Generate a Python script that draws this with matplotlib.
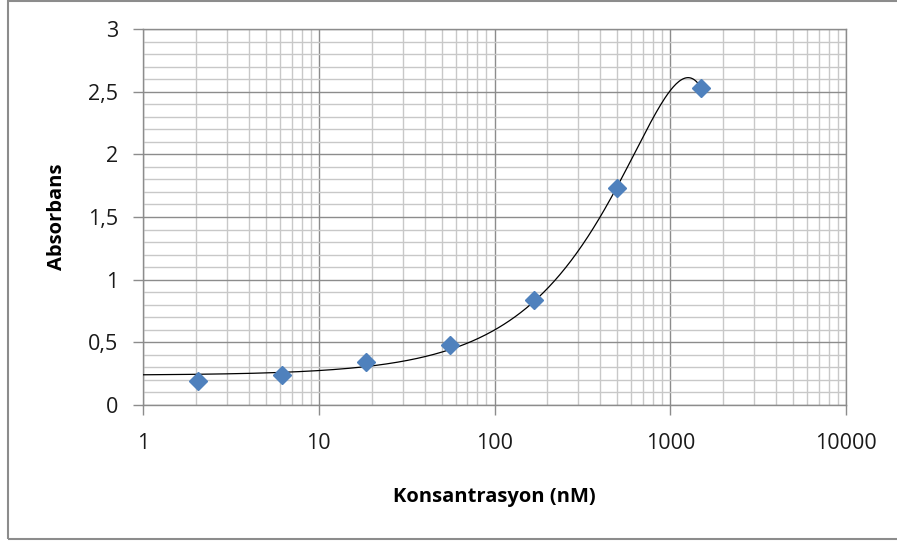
import numpy as np
import matplotlib
matplotlib.use("Agg")
import matplotlib.pyplot as plt
from matplotlib.patches import Rectangle
from matplotlib.ticker import LogLocator, MultipleLocator, FuncFormatter

# ------------------------------
#    DATA
# ------------------------------
# 3-fold dilution series, nM
konsantrasyon = [2.06, 6.17, 18.5, 55.6, 166.7, 500, 1500]
absorbans = [0.19, 0.24, 0.34, 0.48, 0.84, 1.73, 2.53]

plt.rcParams['font.family'] = ['Open Sans', 'DejaVu Sans']

fig = plt.figure(figsize=(8.97, 5.42), dpi=100)
ax = fig.add_axes([143 / 897, 1 - 405 / 542, (846 - 143) / 897, (405 - 29) / 542])

# Outer chart border (Excel style)
fig.patches.append(Rectangle((8 / 897, 3 / 542), 1.0, 1 - 4 / 542, transform=fig.transFigure,
                             fill=False, edgecolor='#8c8c8c', linewidth=1.5))

# polynomial (order 2) trendline, same as the Excel one
coef = np.polyfit(konsantrasyon, absorbans, 2)
xs = np.logspace(0, np.log10(max(konsantrasyon)), 400)
ax.plot(xs, np.polyval(coef, xs), color='black', linewidth=0.9, zorder=3)

ax.plot(konsantrasyon, absorbans, linestyle='none', marker='D', markersize=9.5,
        color='#4f81bd', zorder=4)

ax.set_xscale('log')
ax.set_xlim(1, 10000)
ax.set_ylim(0, 3)

ax.xaxis.set_major_locator(LogLocator(base=10, numticks=10))
ax.xaxis.set_minor_locator(LogLocator(base=10, subs=np.arange(2, 10), numticks=10))
ax.xaxis.set_major_formatter(FuncFormatter(lambda v, p: f'{v:g}'))
ax.xaxis.set_minor_formatter(FuncFormatter(lambda v, p: ''))
ax.yaxis.set_major_locator(MultipleLocator(0.5))
ax.yaxis.set_minor_locator(MultipleLocator(0.1))
ax.yaxis.set_major_formatter(FuncFormatter(lambda v, p: f'{v:g}'.replace('.', ',')))

ax.grid(which='major', color='#8c8c8c', linewidth=1.0)
ax.grid(which='minor', color='#c8c8c8', linewidth=1.0)
ax.set_axisbelow(True)

for s in ax.spines.values():
    s.set_color('#8c8c8c')
    s.set_linewidth(1.0)

ax.tick_params(which='major', length=7, width=1.0, color='#8c8c8c', labelsize=15.5, labelcolor='#1a1a1a')
ax.tick_params(axis='x', which='major', pad=13)
ax.tick_params(axis='y', which='major', pad=11)
ax.tick_params(which='minor', length=0)

ax.set_xlabel('Konsantrasyon (nM)', fontsize=14.5, fontweight='bold', labelpad=24)
ax.set_ylabel('Absorbans', fontsize=14.5, fontweight='bold', labelpad=15)

fig.savefig('out.png', dpi=100)
